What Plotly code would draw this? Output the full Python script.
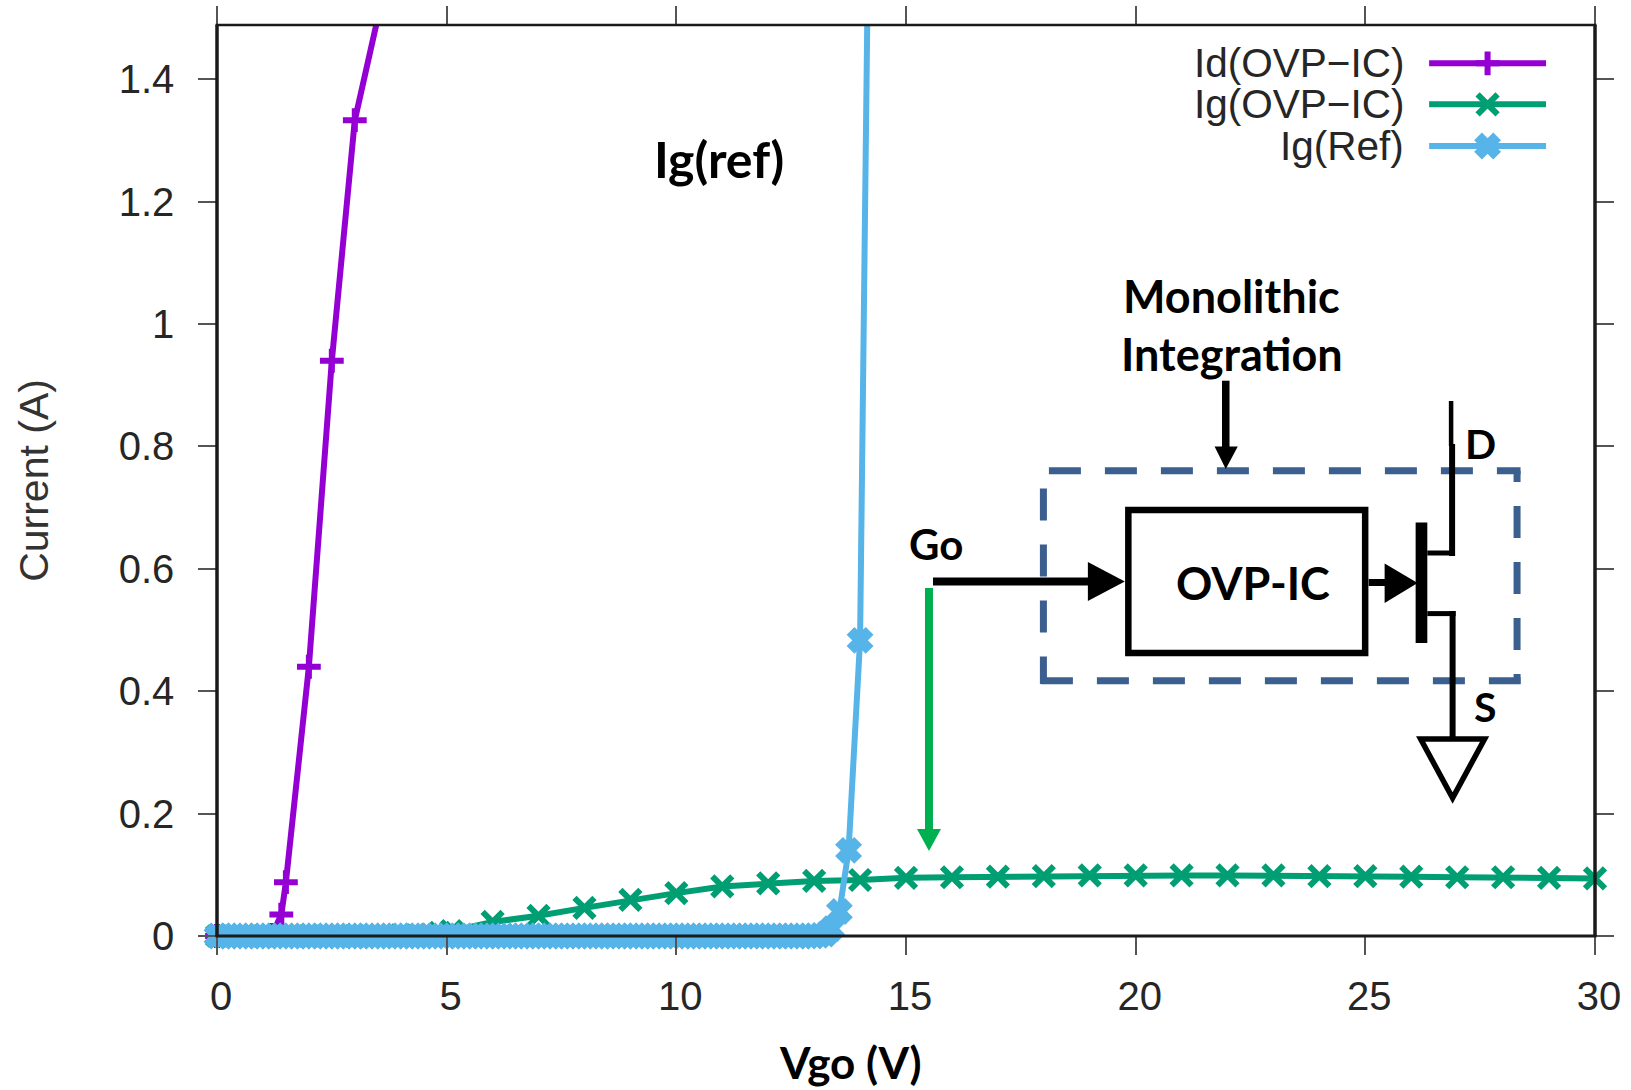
import numpy as np
import plotly.graph_objects as go

# ---------- data ----------
id_x = [0, 1.2, 1.4, 1.5, 2.0, 2.5, 3.0, 3.5]
id_y = [0, 0.002, 0.035, 0.088, 0.44, 0.94, 1.333, 1.50]

ig_x = [0, 1, 2, 3, 4, 4.3, 4.85, 5.1, 6, 7, 8, 9, 10, 11, 12, 13, 14, 15, 16, 17, 18, 19,
        20, 21, 22, 23, 24, 25, 26, 27, 28, 29, 30]
ig_y = [0, 0, 0, 0, 0.001, 0.002, 0.005, 0.008, 0.023, 0.033, 0.046, 0.059, 0.07, 0.081, 0.086,
        0.09, 0.0915, 0.095, 0.096, 0.097, 0.098, 0.099, 0.099, 0.099, 0.099, 0.099, 0.098,
        0.098, 0.097, 0.096, 0.096, 0.095, 0.094]

ref_x = [0, 0.125, 0.25, 0.375, 0.5, 0.625, 0.75, 0.875, 1, 1.125, 1.25, 1.375, 1.5, 1.625, 1.75, 1.875,
         2, 2.125, 2.25, 2.375, 2.5, 2.625, 2.75, 2.875, 3, 3.125, 3.25, 3.375, 3.5, 3.625, 3.75, 3.875,
         4, 4.125, 4.25, 4.375, 4.5, 4.625, 4.75, 4.875, 5, 5.125, 5.25, 5.375, 5.5, 5.625, 5.75, 5.875,
         6, 6.125, 6.25, 6.375, 6.5, 6.625, 6.75, 6.875, 7, 7.125, 7.25, 7.375, 7.5, 7.625, 7.75, 7.875,
         8, 8.125, 8.25, 8.375, 8.5, 8.625, 8.75, 8.875, 9, 9.125, 9.25, 9.375, 9.5, 9.625, 9.75, 9.875,
         10, 10.125, 10.25, 10.375, 10.5, 10.625, 10.75, 10.875, 11, 11.125, 11.25, 11.375, 11.5, 11.625,
         11.75, 11.875, 12, 12.125, 12.25, 12.375, 12.5, 12.625, 12.75, 12.875, 13, 13.125, 13.25,
         13.38, 13.55, 13.75, 14.0, 14.25]
ref_y = [0, 0, 0, 0, 0, 0, 0, 0, 0, 0, 0, 0, 0, 0, 0, 0,
         0, 0, 0, 0, 0, 0, 0, 0, 0, 0, 0, 0, 0, 0, 0, 0,
         0, 0, 0, 0, 0, 0, 0, 0, 0, 0, 0, 0, 0, 0, 0, 0,
         0, 0, 0, 0, 0, 0, 0, 0, 0, 0, 0, 0, 0, 0, 0, 0,
         0, 0, 0, 0, 0, 0, 0, 0, 0, 0, 0, 0, 0, 0, 0, 0,
         0, 0, 0, 0, 0, 0, 0, 0, 0, 0, 0, 0, 0, 0,
         0, 0, 0, 0, 0, 0, 0, 0, 0, 0, 0, 0.001, 0.003,
         0.012, 0.04, 0.14, 0.483, 2.1]

series_names = ["Id(OVP\u2212IC)", "Ig(OVP\u2212IC)", "Ig(Ref)"]
x_ticks = [0, 5, 10, 15, 20, 25, 30]
y_ticks = [0, 0.2, 0.4, 0.6, 0.8, 1, 1.2, 1.4]
y_tick_text = ["0", "0.2", "0.4", "0.6", "0.8", "1", "1.2", "1.4"]

# ---------- layout geometry / styles ----------
W, H = 1631, 1090
L, R, T, B = 216.5, 1595.5, 25.0, 936.0
Y_MAX = 1.4886
PURPLE, GREEN, BLUE = "#9400D3", "#009E73", "#56B4E9"
NAVY, ARROW_GREEN = "#3B5F8F", "#00B050"
SANS, BOLD = "Liberation Sans", "Lato"
TEXT = "#262626"

STYLES = [
    dict(color=PURPLE, symbol="cross-thin", size=17, lw=6),
    dict(color=GREEN, symbol="x-thin", size=20, lw=6),
    dict(color=BLUE, symbol="x", size=20, lw=3),
]


def marker(st):
    return dict(color=st["color"], symbol=st["symbol"], size=st["size"],
                line=dict(color=st["color"], width=st["lw"]))


fig = go.Figure()
for name, xs, ys, st in zip(series_names, (id_x, ig_x, ref_x), (id_y, ig_y, ref_y), STYLES):
    xa, ya = np.array(xs), np.array(ys)
    fig.add_trace(go.Scatter(x=xa, y=ya, mode="lines", name=name, showlegend=False,
                             line=dict(color=st["color"], width=6), hoverinfo="skip"))
    keep = ya < Y_MAX
    fig.add_trace(go.Scatter(x=xa[keep], y=ya[keep], mode="markers", name=name, showlegend=False,
                             marker=marker(st), cliponaxis=False))

# legend drawn gnuplot style (label left of sample), on a pixel-scaled overlay
LEG_Y = [63.3, 104.3, 146.0]
LEG_X0, LEG_X1, LEG_XM, LEG_TXT = 1429.5, 1546.5, 1488.0, 1406.0
for name, y, st in zip(series_names, LEG_Y, STYLES):
    fig.add_trace(go.Scatter(x=[LEG_X0, LEG_XM, LEG_X1], y=[y, y, y], xaxis="x2", yaxis="y2",
                             mode="lines", line=dict(color=st["color"], width=6),
                             showlegend=False, hoverinfo="skip"))
    fig.add_trace(go.Scatter(x=[LEG_XM], y=[y], xaxis="x2", yaxis="y2", mode="markers",
                             marker=marker(st), showlegend=False, hoverinfo="skip"))


def line(x0, y0, x1, y1, color="black", width=6, dash=None):
    return dict(type="line", xref="x2", yref="y2", x0=x0, y0=y0, x1=x1, y1=y1, layer="above",
                line=dict(color=color, width=width, dash=dash))


def frame(x0, y0, x1, y1, width):
    # paper references so the strokes are not clipped at the plot edge
    return dict(type="line", xref="paper", yref="paper", layer="above",
                x0=(x0 - L) / (R - L), x1=(x1 - L) / (R - L),
                y0=(B - y0) / (B - T), y1=(B - y1) / (B - T),
                line=dict(color=FRAME, width=width))


def poly(points, fill="black", outline="black", width=0):
    path = "M " + " L ".join(f"{x},{y}" for x, y in points) + " Z"
    return dict(type="path", xref="x2", yref="y2", path=path, fillcolor=fill, layer="above",
                line=dict(color=outline, width=width))


DASH = "32px,24px"
FRAME = "#1a1a1a"
shapes = [
    # plot frame
    frame(L - 1.5, T, R + 1.5, T, 2.5),
    frame(L - 1.5, B, R + 1.5, B, 3),
    frame(L, T, L, B, 3.5),
    frame(R, T, R, B, 3.5),
    # dashed integration box
    line(1049, 470.7, 1521, 470.7, NAVY, 7, DASH),
    line(1517.5, 471, 1517.5, 482, NAVY, 7),
    line(1517.5, 506, 1517.5, 684, NAVY, 7, DASH),
    line(1043.5, 488.6, 1043.5, 684, NAVY, 7, DASH),
    line(1041, 680.7, 1521, 680.7, NAVY, 7, DASH),
    # OVP-IC block
    dict(type="rect", xref="x2", yref="y2", x0=1128.5, x1=1365.5, y0=510, y1=653, layer="above",
         line=dict(color="black", width=6.5), fillcolor="rgba(0,0,0,0)"),
    # Go input
    line(933, 581.4, 1090, 581.4, width=8),
    poly([(1088, 562), (1088, 601), (1125, 581.4)]),
    # block to gate
    line(1369, 582.5, 1387, 582.5, width=7),
    poly([(1385, 563.6), (1385, 603), (1418, 583)]),
    # transistor
    poly([(1416, 522.5), (1427.7, 522.5), (1427.7, 643), (1416, 643)]),
    line(1451.5, 401, 1451.5, 446, width=4.5),
    line(1452.5, 444, 1452.5, 556, width=6),
    line(1427.7, 553, 1455, 553, width=5),
    line(1427.7, 613.6, 1456, 613.6, width=5),
    line(1453, 611, 1453, 738, width=6),
    # ground
    poly([(1421, 739), (1485, 739), (1453, 798)], fill="white", width=5.5),
    # Monolithic arrow
    line(1226, 380.7, 1226, 449, width=7.5),
    poly([(1214.8, 446.4), (1238, 446.4), (1226, 469)]),
    # green arrow
    line(929, 588, 929, 831, ARROW_GREEN, 8),
    poly([(917, 829), (941, 829), (929, 851)], fill=ARROW_GREEN, outline=ARROW_GREEN),
]


def note(text, x, y, size, family=BOLD, color="black", weight="bold", xanchor="center"):
    return dict(text=text, x=x, y=y, xref="x2", yref="y2", showarrow=False, xanchor=xanchor,
                yanchor="middle", font=dict(family=family, size=size, color=color, weight=weight))


annotations = [note(n, LEG_TXT, y, 40.5, SANS, TEXT, "normal", "right")
               for n, y in zip(series_names, LEG_Y)]
annotations += [
    note("Ig(ref)", 719, 159, 50),
    note("Monolithic", 1232, 295.5, 45),
    note("Integration", 1232, 354.4, 45),
    note("OVP-IC", 1253, 583, 45),
    note("Go", 936, 543.7, 42),
    note("D", 1480.6, 443, 41),
    note("S", 1486, 706, 41),
]
annotations.append(dict(text="Vgo (V)", x=(850 - L) / (R - L), y=(H - 1062 - (H - B)) / (B - T),
                        xref="paper", yref="paper", showarrow=False, yanchor="middle",
                        font=dict(family=BOLD, size=44, color="black", weight="bold")))

fig.update_layout(
    width=W, height=H, paper_bgcolor="white", plot_bgcolor="white", showlegend=False,
    margin=dict(l=L, r=W - R, t=T, b=H - B, pad=0, autoexpand=False),
    font=dict(family=SANS, color=TEXT, size=38),
    shapes=shapes, annotations=annotations,
    xaxis=dict(range=[0, 30], tickmode="array", tickvals=x_ticks, ticks="outside", ticklen=18,
               tickwidth=2, tickcolor="#555555", showgrid=False, zeroline=False, showline=True,
               linecolor=FRAME, linewidth=0.5, mirror="ticks", ticklabelshift=4,
               ticklabelstandoff=7, tickfont=dict(size=40, color=TEXT), layer="above traces"),
    yaxis=dict(range=[0, Y_MAX], tickmode="array", tickvals=y_ticks, ticktext=y_tick_text,
               ticks="outside", ticklen=18, tickwidth=2, tickcolor="#555555", showgrid=False,
               zeroline=False, showline=True, linecolor=FRAME, linewidth=0.5, mirror="ticks",
               ticklabelstandoff=16, tickfont=dict(size=40, color=TEXT), layer="above traces",
               title=dict(text="Current (A)", standoff=57,
                          font=dict(family=SANS, size=41, color="#333333"))),
    xaxis2=dict(range=[L, R], overlaying="x", anchor="y2", visible=False, fixedrange=True),
    yaxis2=dict(range=[B, T], overlaying="y", anchor="x2", visible=False, fixedrange=True),
)

fig.write_html("out.html", config=dict(displayModeBar=False),
               post_script="document.body.style.margin='0';document.documentElement.style.overflow='hidden';")
